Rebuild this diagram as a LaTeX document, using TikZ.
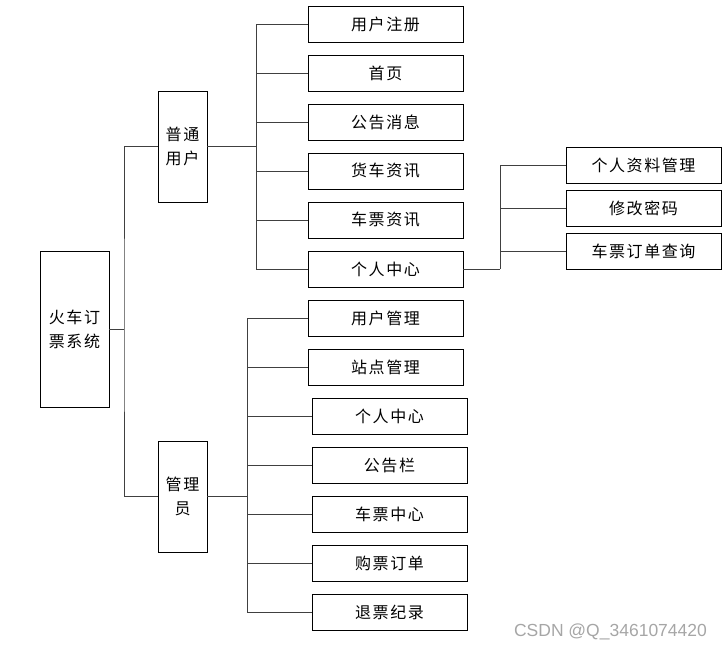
\documentclass[tikz,border=0pt]{standalone}
\usepackage{fontspec}
\newfontfamily\cjk[LetterSpace=10]{Noto Sans CJK SC}
\newfontfamily\wmfont{Liberation Sans}
\begin{document}
\begin{tikzpicture}[x=1pt,y=-1pt,
  box/.style={draw=black,line width=0.8pt,fill=white,inner sep=0pt,align=center,
    font=\cjk\fontsize{16}{24}\selectfont,text=black},
  leaf/.style={box,minimum width=155pt,minimum height=36pt},
  tall/.style={box,minimum width=49pt,minimum height=111pt},
  conn/.style={draw=black!75,line width=0.9pt}]
\useasboundingbox (0,0) rectangle (724,650);
% root and second level
\node[box,minimum width=69pt,minimum height=156pt] (root) at (74.5,329) {火车订\\票系统};
\node[tall] (pu) at (182.5,146.5) {普通\\用户};
\node[tall] (ad) at (182.5,496.5) {管理\\员};
% user children
\node[leaf] (u1) at (385.5,24) {用户注册};
\node[leaf] (u2) at (385.5,73) {首页};
\node[leaf] (u3) at (385.5,122) {公告消息};
\node[leaf] (u4) at (385.5,171) {货车资讯};
\node[leaf] (u5) at (385.5,220) {车票资讯};
\node[leaf] (u6) at (385.5,269) {个人中心};
% personal centre children
\node[leaf] (s1) at (643.5,165) {个人资料管理};
\node[leaf] (s2) at (643.5,208) {修改密码};
\node[leaf] (s3) at (643.5,251) {车票订单查询};
% admin children
\node[leaf] (a1) at (385.5,318.5) {用户管理};
\node[leaf] (a2) at (385.5,367.5) {站点管理};
\node[leaf] (a3) at (389.5,416.5) {个人中心};
\node[leaf] (a4) at (389.5,465.5) {公告栏};
\node[leaf] (a5) at (389.5,514.5) {车票中心};
\node[leaf] (a6) at (389.5,563.5) {购票订单};
\node[leaf] (a7) at (389.5,612.5) {退票纪录};
% bus coordinates
\coordinate (b1) at (124,329);
\coordinate (b2) at (256,146.5);
\coordinate (b3) at (500,269);
\coordinate (b4) at (247,496.5);
% connectors
\draw[conn] (root.east) -- (b1);
\draw[conn] (pu.west) -| (b1) |- (ad.west);
\draw[conn] (pu.east) -- (b2);
\foreach \n in {u1,u2,u3,u4,u5,u6} \draw[conn] (\n.west) -| (b2);
\draw[conn] (u6.east) -- (b3);
\foreach \n in {s1,s2,s3} \draw[conn] (\n.west) -| (b3);
\draw[conn] (ad.east) -- (b4);
\foreach \n in {a1,a2,a3,a4,a5,a6,a7} \draw[conn] (\n.west) -| (b4);
% watermark
\node[font=\wmfont\fontsize{17.5}{19}\selectfont,text=black!35,inner sep=0pt] (wm) at (610.5,632) {CSDN @Q\_3461074420};
\end{tikzpicture}
\end{document}
